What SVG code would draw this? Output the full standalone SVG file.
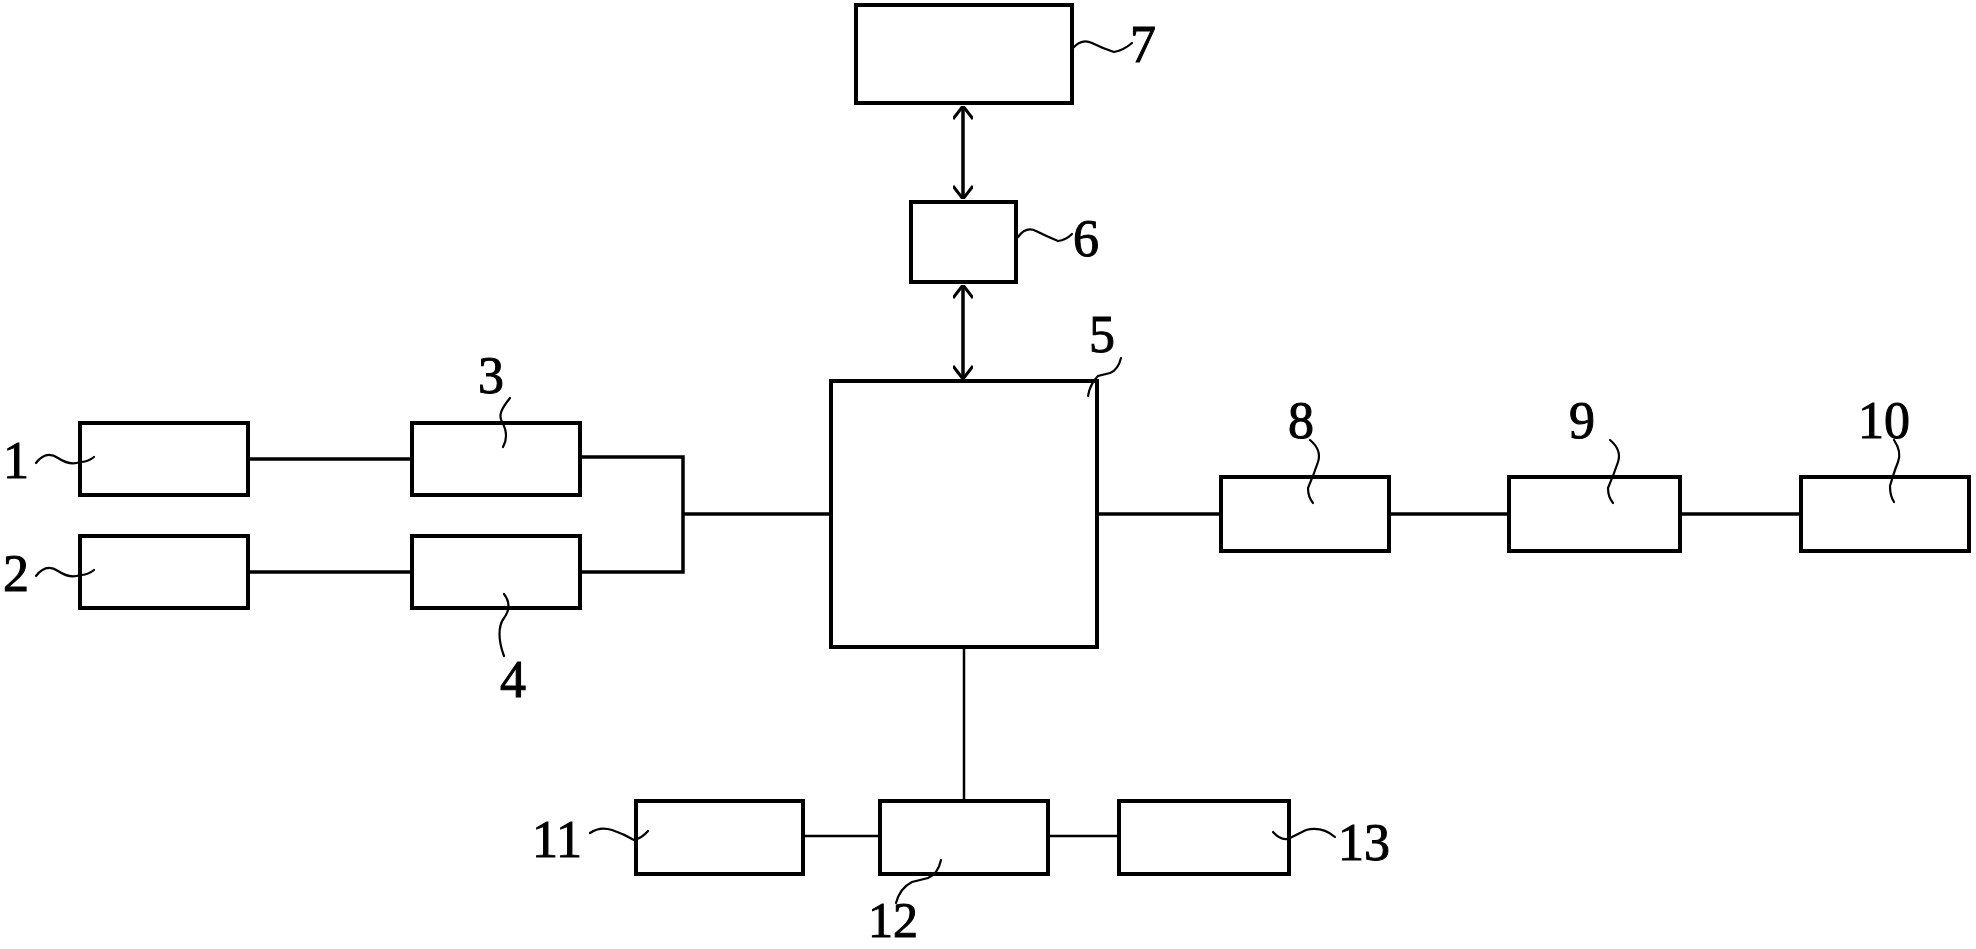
<svg xmlns="http://www.w3.org/2000/svg" width="1976" height="949" viewBox="0 0 1976 949">
<style>
.box{fill:#fff;stroke:#000;stroke-width:4}
.ln{fill:none;stroke:#000;stroke-width:3.5}
.thin{fill:none;stroke:#000;stroke-width:2.5}
.sq{fill:none;stroke:#000;stroke-width:2.2;stroke-linecap:round}
.lb{font-family:"Liberation Serif",serif;font-size:52px;fill:#000;stroke:#000;stroke-width:1;text-anchor:middle}
</style>
<defs>
<marker id="arr" viewBox="0 0 20 20" refX="20" refY="10" markerWidth="20" markerHeight="20" markerUnits="userSpaceOnUse" orient="auto-start-reverse">
<path d="M7,0 L20,10 L7,20" fill="none" stroke="#000" stroke-width="3"/>
</marker>
</defs>
<g id="connectors">
<line class="ln" x1="963" y1="106" x2="963" y2="199" marker-start="url(#arr)" marker-end="url(#arr)"/>
<line class="ln" x1="963" y1="285" x2="963" y2="379" marker-start="url(#arr)" marker-end="url(#arr)"/>
<line class="ln" x1="248" y1="459" x2="412" y2="459"/>
<line class="ln" x1="248" y1="572" x2="412" y2="572"/>
<polyline class="ln" points="580,457 683,457 683,572 580,572"/>
<line class="ln" x1="683" y1="514" x2="831" y2="514"/>
<line class="ln" x1="1097" y1="514" x2="1221" y2="514"/>
<line class="ln" x1="1389" y1="514" x2="1509" y2="514"/>
<line class="ln" x1="1680" y1="514" x2="1801" y2="514"/>
<line class="thin" x1="964" y1="647" x2="964" y2="801"/>
<line class="thin" x1="803" y1="836" x2="880" y2="836"/>
<line class="thin" x1="1048" y1="836" x2="1119" y2="836"/>
</g>
<g id="node7"><rect class="box" x="856" y="5" width="216" height="98"/><path class="sq" d="M1073,48 Q1082,38 1092,43 T1114,52 Q1124,50 1132,43"/><text class="lb" x="1143" y="62">7</text></g>
<g id="node6"><rect class="box" x="911" y="202" width="105" height="80"/><path class="sq" d="M1018,237 Q1026,226 1036,231 T1058,241 Q1066,240 1072,234"/><text class="lb" x="1086" y="256">6</text></g>
<g id="node5"><rect class="box" x="831" y="381" width="266" height="266"/><path class="sq" d="M1121,358 Q1118,370 1110,373 L1098,376 Q1090,384 1088,396"/><text class="lb" x="1102" y="352">5</text></g>
<g id="node1"><rect class="box" x="80" y="423" width="168" height="72"/><path class="sq" d="M36,463 Q46,450 58,458 T80,462 Q88,462 94,457"/><text class="lb" x="16" y="478">1</text></g>
<g id="node2"><rect class="box" x="80" y="536" width="168" height="72"/><path class="sq" d="M36,576 Q46,563 58,571 T80,575 Q88,575 94,570"/><text class="lb" x="16" y="591">2</text></g>
<g id="node3"><rect class="box" x="412" y="423" width="168" height="72"/><path class="sq" d="M510,398 C502,408 498,415 502,422 S508,438 503,447"/><text class="lb" x="491" y="393">3</text></g>
<g id="node4"><rect class="box" x="412" y="536" width="168" height="72"/><path class="sq" d="M504,594 C510,602 510,610 504,618 S498,640 504,656"/><text class="lb" x="513" y="697">4</text></g>
<g id="node8"><rect class="box" x="1221" y="477" width="168" height="74"/><path class="sq" d="M1310,440 Q1322,450 1318,462 T1308,488 Q1308,497 1313,503"/><text class="lb" x="1301" y="438">8</text></g>
<g id="node9"><rect class="box" x="1509" y="477" width="171" height="74"/><path class="sq" d="M1610,440 Q1622,450 1618,462 T1608,488 Q1608,497 1613,503"/><text class="lb" x="1582" y="438">9</text></g>
<g id="node10"><rect class="box" x="1801" y="477" width="168" height="74"/><path class="sq" d="M1894,440 Q1902,452 1898,462 T1890,486 Q1890,496 1894,502"/><text class="lb" x="1884" y="438">10</text></g>
<g id="node11"><rect class="box" x="636" y="801" width="167" height="73"/><path class="sq" d="M590,833 Q600,826 612,830 T634,840 Q642,838 648,831"/><text class="lb" x="557" y="857">11</text></g>
<g id="node12"><rect class="box" x="880" y="801" width="168" height="73"/><path class="sq" d="M941,860 Q938,874 928,878 L912,882 Q900,888 896,903"/><text class="lb" x="893" y="937" style="font-size:50px">12</text></g>
<g id="node13"><rect class="box" x="1119" y="801" width="170" height="73"/><path class="sq" d="M1273,832 Q1282,842 1290,838 T1306,830 Q1322,826 1335,837"/><text class="lb" x="1364" y="860">13</text></g>
</svg>
